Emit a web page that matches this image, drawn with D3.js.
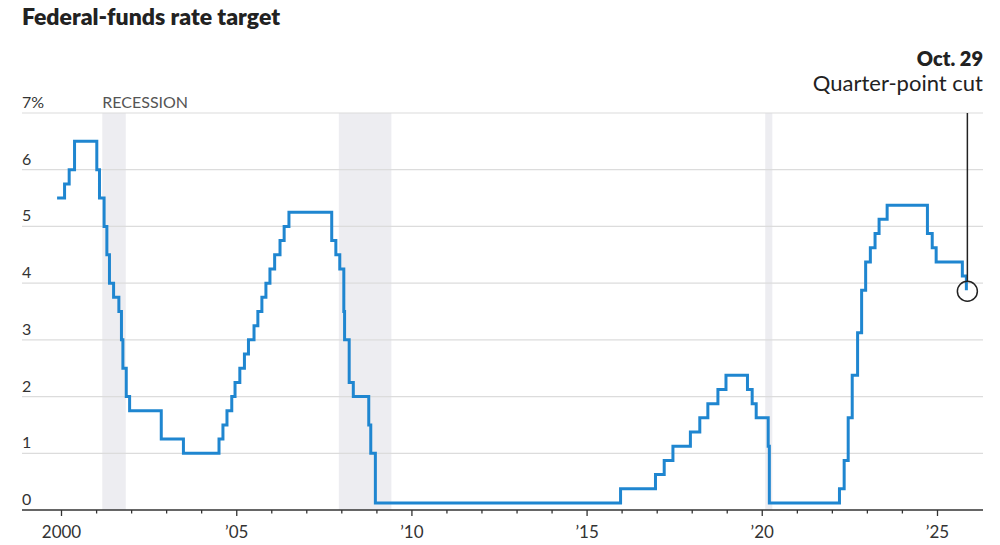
<!DOCTYPE html>
<html><head><meta charset="utf-8">
<script src="https://cdn.jsdelivr.net/npm/d3@7"></script>
<style>body{margin:0;background:#fff}svg{display:block;font-family:Lato,"Open Sans",sans-serif}</style>
</head><body><svg id="c" width="1000" height="545"></svg>
<script>
// Fed funds target (midpoint of range after 2008): [date, rate]
const changeDates = ["1999-11-16","2000-02-02","2000-03-21","2000-05-16","2001-01-03","2001-01-31","2001-03-20","2001-04-18","2001-05-15","2001-06-27","2001-08-21","2001-09-17","2001-10-02","2001-11-06","2001-12-11","2002-11-06","2003-06-25","2004-06-30","2004-08-10","2004-09-21","2004-11-10","2004-12-14","2005-02-02","2005-03-22","2005-05-03","2005-06-30","2005-08-09","2005-09-20","2005-11-01","2005-12-13","2006-01-31","2006-03-28","2006-05-10","2006-06-29","2007-09-18","2007-10-31","2007-12-11","2008-01-22","2008-01-30","2008-03-18","2008-04-30","2008-10-08","2008-10-29","2008-12-16","2015-12-16","2016-12-14","2017-03-15","2017-06-14","2017-12-13","2018-03-21","2018-06-13","2018-09-26","2018-12-19","2019-07-31","2019-09-18","2019-10-30","2020-03-03","2020-03-15","2022-03-16","2022-05-04","2022-06-15","2022-07-27","2022-09-21","2022-11-02","2022-12-14","2023-02-01","2023-03-22","2023-05-03","2023-07-26","2024-09-18","2024-11-07","2024-12-18","2025-09-17","2025-10-29"];
const rates = [5.5,5.75,6.0,6.5,6.0,5.5,5.0,4.5,4.0,3.75,3.5,3.0,2.5,2.0,1.75,1.25,1.0,1.25,1.5,1.75,2.0,2.25,2.5,2.75,3.0,3.25,3.5,3.75,4.0,4.25,4.5,4.75,5.0,5.25,4.75,4.5,4.25,3.5,3.0,2.25,2.0,1.5,1.0,0.125,0.375,0.625,0.875,1.125,1.375,1.625,1.875,2.125,2.375,2.125,1.875,1.625,1.125,0.125,0.375,0.875,1.625,2.375,3.125,3.875,4.375,4.625,4.875,5.125,5.375,4.875,4.625,4.375,4.125,3.875];
const recessionStarts = ["2001-03-01","2007-12-01","2020-02-01"];
const recessionEnds = ["2001-11-01","2009-06-01","2020-04-15"];
const yTicks = [0,1,2,3,4,5,6,7];
const majorYears = [2000,2005,2010,2015,2020,2025];

const parse = d3.utcParse("%Y-%m-%d");
const data = changeDates.map((d,i)=>({date:parse(d), rate:rates[i]}));

const svg = d3.select("#c");
const L = 22, R = 983, Y0 = 510, Y7 = 113;
const x = d3.scaleUtc().domain([Date.UTC(2000,0,1), Date.UTC(2025,0,1)]).range([61.5,937.5]);
x.domain([x.invert(L), x.invert(R)]).range([L,R]);
const y = d3.scaleLinear().domain([0,7]).range([Y0,Y7]);

// title
svg.append("text").attr("x",22).attr("y",25).attr("font-size",23).attr("font-weight",800)
  .attr("fill","#222").text("Federal-funds rate target");

// recession bands
svg.append("g").selectAll("rect").data(recessionStarts).join("rect")
  .attr("x",(d)=>x(parse(d)))
  .attr("width",(d,i)=>x(parse(recessionEnds[i]))-x(parse(d)))
  .attr("y",y(7)).attr("height",y(0)-y(7)).attr("fill","#ededf1");

// gridlines
const g = svg.append("g");
g.selectAll("line").data(yTicks.filter(d=>d>0)).join("line")
  .attr("x1",L).attr("x2",R).attr("y1",d=>y(d)).attr("y2",d=>y(d))
  .attr("stroke","#dcdcdc").attr("stroke-width",1.2);
svg.append("g").selectAll("text").data(yTicks).join("text")
  .attr("x",L).attr("y",d=>y(d)-5).attr("font-size",16).attr("fill","#333")
  .text(d=>d===7?"7%":d);
svg.append("text").attr("x",x(parse("2001-03-01"))).attr("y",y(7)-5)
  .attr("font-size",16).attr("fill","#555").text("RECESSION");

// x axis
const xa = svg.append("g");
xa.append("line").attr("x1",L).attr("x2",R).attr("y1",Y0).attr("y2",Y0)
  .attr("stroke","#333").attr("stroke-width",1.6);
const years = d3.range(2000,2026);
xa.selectAll("line.t").data(years).join("line").attr("class","t")
  .attr("x1",d=>x(Date.UTC(d,0,1))).attr("x2",d=>x(Date.UTC(d,0,1)))
  .attr("y1",Y0).attr("y2",d=>Y0+(d%5===0?6:3.5)).attr("stroke","#333").attr("stroke-width",1.3);
xa.selectAll("text").data(majorYears).join("text")
  .attr("x",d=>x(Date.UTC(d,0,1))).attr("y",538).attr("text-anchor","middle")
  .attr("font-size",17).attr("fill","#333")
  .text(d=>d===2000?"2000":"\u2019"+String(d).slice(2));

// line
const line = d3.line().x(d=>x(d.date)).y(d=>y(d.rate)).curve(d3.curveStepAfter);
svg.append("path").datum(data).attr("d",line).attr("fill","none")
  .attr("stroke","#1f86d0").attr("stroke-width",3).attr("stroke-linejoin","miter");

// annotation
const last = data[data.length-1];
const cx = x(last.date)+1, cy = y(last.rate)+1;
svg.append("line").attr("x1",cx).attr("x2",cx).attr("y1",Y7).attr("y2",cy-10)
  .attr("stroke","#222").attr("stroke-width",1.5);
svg.append("circle").attr("cx",cx).attr("cy",cy).attr("r",10).attr("fill","none")
  .attr("stroke","#222").attr("stroke-width",1.5);
svg.append("text").attr("x",983).attr("y",66).attr("text-anchor","end")
  .attr("font-size",20).attr("font-weight",800).attr("fill","#222").text("Oct. 29");
svg.append("text").attr("x",983).attr("y",91).attr("text-anchor","end")
  .attr("font-size",22).attr("fill","#222").text("Quarter-point cut");
</script></body></html>
